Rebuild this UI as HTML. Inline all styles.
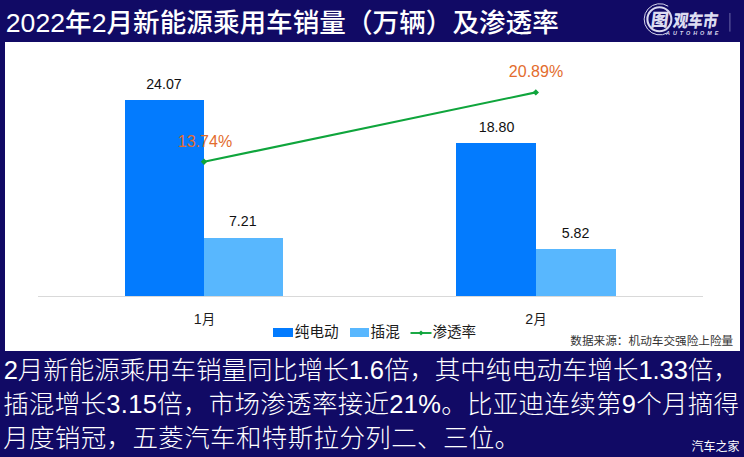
<!DOCTYPE html>
<html lang="zh-CN">
<head>
<meta charset="utf-8">
<title>2022年2月新能源乘用车销量（万辆）及渗透率</title>
<style>
html,body{margin:0;padding:0;background:#110a65;}
body{width:744px;height:457px;overflow:hidden;font-family:"Liberation Sans",sans-serif;}
#stage{position:relative;width:744px;height:457px;background:#110a65;overflow:hidden;}
svg{position:absolute;left:0;top:0;overflow:visible;}
svg text{font-family:"Liberation Sans","Noto Sans CJK SC",sans-serif;}
.panel{position:absolute;left:5px;top:42px;width:735px;height:309px;background:#fff;}
.bar{position:absolute;}
.b1{background:#037bfe;}
.b2{background:#58b7fe;}
.axis{position:absolute;left:37.5px;top:295.5px;width:665.5px;height:1px;background:#d9d9d9;}
.val{position:absolute;width:80px;margin-left:-40px;text-align:center;font-size:14.2px;line-height:14px;color:#111;white-space:nowrap;}
.pct{position:absolute;width:80px;margin-left:-40px;text-align:center;font-size:16px;line-height:16px;color:#e36c2d;white-space:nowrap;}
.tick{position:absolute;font-size:14.2px;line-height:14px;color:#1c1c1c;}
.sw{position:absolute;top:328px;height:8.5px;}
h1,p{margin:0;}
</style>
</head>
<body>
<div id="stage">

<h1 aria-label="2022年2月新能源乘用车销量（万辆）及渗透率"><svg width="744" height="42" viewBox="0 0 744 42" fill="#fff" role="img"><title>2022年2月新能源乘用车销量（万辆）及渗透率</title><text x="5.8" y="32" font-size="26.6" font-weight="500" textLength="553" lengthAdjust="spacing">2022年2月新能源乘用车销量（万辆）及渗透率</text></svg></h1>

<svg width="744" height="42" viewBox="0 0 744 42" role="img" aria-label="图观车市 AUTOHOME">
<title>图观车市 AUTOHOME</title>
<g fill="none" stroke="#d9d9ee">
<circle cx="659.4" cy="19.2" r="12.0" stroke-width="2.1"/>
<path d="M667.6 32.8 A15.6 15.6 0 1 1 668.2 6.2" stroke-width="1"/>
</g>
<g fill="#dcdcf0"><g transform="translate(659.9 25.7) skewX(-8)"><text x="-9.5" y="0.5" font-size="17.5" font-weight="900">图</text></g><g transform="translate(672.6 26.7) skewX(-8)"><text x="-0.12" y="0" font-size="17.5" font-weight="900" textLength="44.6" lengthAdjust="spacingAndGlyphs">观车市</text></g></g>
<text x="666" y="35.3" font-family="Liberation Serif, serif" font-style="italic" font-weight="bold" font-size="5.4" letter-spacing="3.0" fill="#d9d9ee">AUTOHOME</text>
<rect x="729.4" y="13" width="1" height="18.6" fill="#6c68a8"/>
</svg>

<div class="panel"></div>
<div class="axis"></div>
<div class="bar b1" style="left:125px;top:100px;width:79px;height:196px"></div>
<div class="bar b2" style="left:204px;top:238px;width:79px;height:58px"></div>
<div class="bar b1" style="left:456px;top:143px;width:80px;height:153px"></div>
<div class="bar b2" style="left:536px;top:249px;width:79.5px;height:47px"></div>

<svg width="744" height="457" viewBox="0 0 744 457">
<path d="M204 161.8 L535.8 92.4" stroke="#0fa53c" stroke-width="2.1" fill="none"/>
<path d="M204 158.6 l3.2 3.2 -3.2 3.2 -3.2 -3.2z M535.8 89.2 l3.2 3.2 -3.2 3.2 -3.2 -3.2z" fill="#0fa53c"/>
<path d="M410.5 333 H431.5" stroke="#0fa53c" stroke-width="1.9"/>
<path d="M421 330.4 l2.6 2.6 -2.6 2.6 -2.6 -2.6z" fill="#0fa53c"/>
</svg>

<div class="val" style="left:164px;top:77.4px">24.07</div>
<div class="val" style="left:242.8px;top:214px">7.21</div>
<div class="val" style="left:496.6px;top:120.3px">18.80</div>
<div class="val" style="left:575.6px;top:225.9px">5.82</div>
<div class="pct" style="left:205px;top:133.6px">13.74%</div>
<div class="pct" style="left:536px;top:63.5px">20.89%</div>

<div class="tick" style="left:193.7px;top:312.3px">1</div>
<div class="tick" style="left:525.2px;top:312.3px">2</div>
<svg width="744" height="457" viewBox="0 0 744 457" fill="#1c1c1c" role="img" aria-label="1月 2月"><title>月</title><text x="202" y="324.4" font-size="13.2">月</text><text x="533.5" y="324.4" font-size="13.2">月</text></svg>

<div class="sw b1" style="left:273px;width:20px"></div>
<div class="sw b2" style="left:350px;width:18.5px"></div>
<svg width="744" height="457" viewBox="0 0 744 457" fill="#1a1a1a" role="img" aria-label="纯电动 插混 渗透率"><title>纯电动 插混 渗透率</title><text x="294.8" y="337" font-size="14.6">纯电动</text><text x="370.6" y="337" font-size="14.6">插混</text><text x="432.4" y="337" font-size="14.6">渗透率</text></svg>
<svg width="744" height="457" viewBox="0 0 744 457" fill="#333" role="img" aria-label="数据来源：机动车交强险上险量"><title>数据来源：机动车交强险上险量</title><text x="570.3" y="345.4" font-size="11.65">数据来源：机动车交强险上险量</text></svg>

<p aria-label="2月新能源乘用车销量同比增长1.6倍，其中纯电动车增长1.33倍，插混增长3.15倍，市场渗透率接近21%。比亚迪连续第9个月摘得月度销冠，五菱汽车和特斯拉分列二、三位。"><svg width="744" height="457" viewBox="0 0 744 457" fill="#fff" role="img"><title>2月新能源乘用车销量同比增长1.6倍，其中纯电动车增长1.33倍，插混增长3.15倍，市场渗透率接近21%。比亚迪连续第9个月摘得月度销冠，五菱汽车和特斯拉分列二、三位。</title>
<text x="3.75" y="379" font-size="25.5" font-weight="300" textLength="735" lengthAdjust="spacing">2月新能源乘用车销量同比增长1.6倍，其中纯电动车增长1.33倍，</text>
<text x="3.13" y="413" font-size="25.5" font-weight="300" textLength="736" lengthAdjust="spacing">插混增长3.15倍，市场渗透率接近21%。比亚迪连续第9个月摘得</text>
<text x="3.13" y="447" font-size="25.5" font-weight="300" textLength="517" lengthAdjust="spacing">月度销冠，五菱汽车和特斯拉分列二、三位。</text>
</svg></p>

<svg width="744" height="457" viewBox="0 0 744 457" fill="#fff" role="img" aria-label="汽车之家"><title>汽车之家</title><text x="691.5" y="451" font-size="12">汽车之家</text></svg>
</div>
</body>
</html>
